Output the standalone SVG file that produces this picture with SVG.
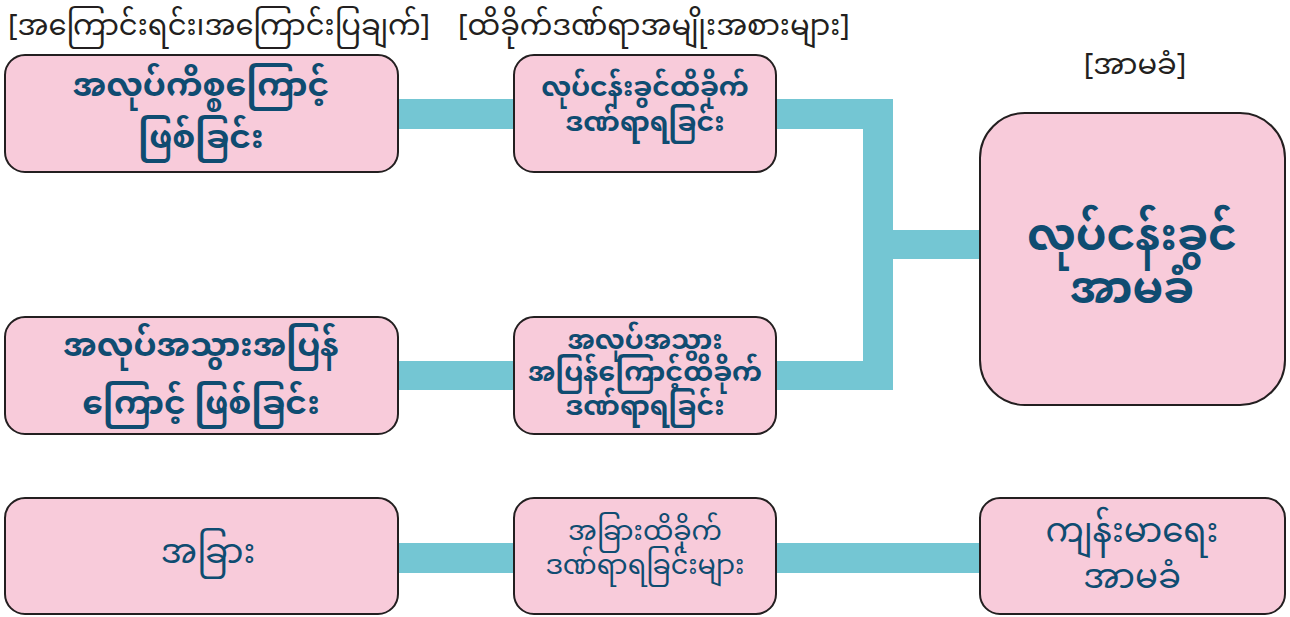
<svg xmlns="http://www.w3.org/2000/svg" width="1290" height="617" viewBox="0 0 1290 617">
  <style>
    .box { fill: #F8CBDA; stroke: #231F20; stroke-width: 2; }
    .lbl { fill: #0F4C71; font-family: "Noto Sans Myanmar", "Padauk", "Myanmar Text", "Noto Sans", sans-serif; text-anchor: middle; dominant-baseline: central; }
    .big { font-size: 33px; font-weight: bold; }
    .mid { font-size: 27px; font-weight: bold; }
    .sm { font-size: 27px; }
    .plain { font-size: 34px; }
    .xl { font-size: 44px; font-weight: bold; }
    .hdr { fill: #231F20; font-family: "Noto Sans Myanmar", "Padauk", "Myanmar Text", "Noto Sans", sans-serif; font-size: 29px; dominant-baseline: central; }
    .link { fill: #74C6D3; }
  </style>

  <!-- column headings -->
  <g id="headings">
    <text class="hdr" x="8" y="28">[အကြောင်းရင်း၊အကြောင်းပြချက်]</text>
    <text class="hdr" x="458" y="28">[ထိခိုက်ဒဏ်ရာအမျိုးအစားများ]</text>
    <text class="hdr" x="1135" y="67" text-anchor="middle">[အာမခံ]</text>
  </g>

  <!-- connectors -->
  <g id="connectors">
    <rect class="link" x="398" y="99" width="116" height="30"/>
    <rect class="link" x="776" y="99" width="117" height="30"/>
    <rect class="link" x="863" y="99" width="30" height="291"/>
    <rect class="link" x="776" y="361" width="117" height="29"/>
    <rect class="link" x="893" y="230" width="87" height="29"/>
    <rect class="link" x="398" y="361" width="116" height="29"/>
    <rect class="link" x="398" y="543" width="116" height="30"/>
    <rect class="link" x="776" y="543" width="204" height="30"/>
  </g>

  <g id="cause-work">
    <rect class="box" x="5" y="55" width="393" height="117" rx="20"/>
    <text class="lbl big" x="201" y="88">အလုပ်ကိစ္စကြောင့်</text>
    <text class="lbl big" x="201" y="140">ဖြစ်ခြင်း</text>
  </g>

  <g id="injury-work">
    <rect class="box" x="514" y="55" width="262" height="117" rx="20"/>
    <text class="lbl mid" x="645" y="89">လုပ်ငန်းခွင်ထိခိုက်</text>
    <text class="lbl mid" x="645" y="124">ဒဏ်ရာရခြင်း</text>
  </g>

  <g id="insurance-work">
    <rect class="box" x="980" y="113" width="305" height="292" rx="45"/>
    <text class="lbl xl" x="1132" y="240">လုပ်ငန်းခွင်</text>
    <text class="lbl xl" x="1132" y="293">အာမခံ</text>
  </g>

  <g id="cause-commute">
    <rect class="box" x="5" y="317" width="393" height="117" rx="20"/>
    <text class="lbl big" x="201" y="348">အလုပ်အသွားအပြန်</text>
    <text class="lbl big" x="201" y="406">ကြောင့် ဖြစ်ခြင်း</text>
  </g>

  <g id="injury-commute">
    <rect class="box" x="514" y="317" width="262" height="117" rx="20"/>
    <text class="lbl mid" x="645" y="342">အလုပ်အသွား</text>
    <text class="lbl mid" x="645" y="374">အပြန်ကြောင့်ထိခိုက်</text>
    <text class="lbl mid" x="645" y="408">ဒဏ်ရာရခြင်း</text>
  </g>

  <g id="cause-other">
    <rect class="box" x="5" y="498" width="393" height="116" rx="20"/>
    <text class="lbl plain" x="208" y="555">အခြား</text>
  </g>

  <g id="injury-other">
    <rect class="box" x="514" y="498" width="262" height="116" rx="20"/>
    <text class="lbl sm" x="645" y="533">အခြားထိခိုက်</text>
    <text class="lbl sm" x="645" y="567">ဒဏ်ရာရခြင်းများ</text>
  </g>

  <g id="insurance-health">
    <rect class="box" x="980" y="498" width="305" height="116" rx="20"/>
    <text class="lbl plain" x="1132" y="534">ကျန်းမာရေး</text>
    <text class="lbl plain" x="1132" y="580">အာမခံ</text>
  </g>
</svg>
